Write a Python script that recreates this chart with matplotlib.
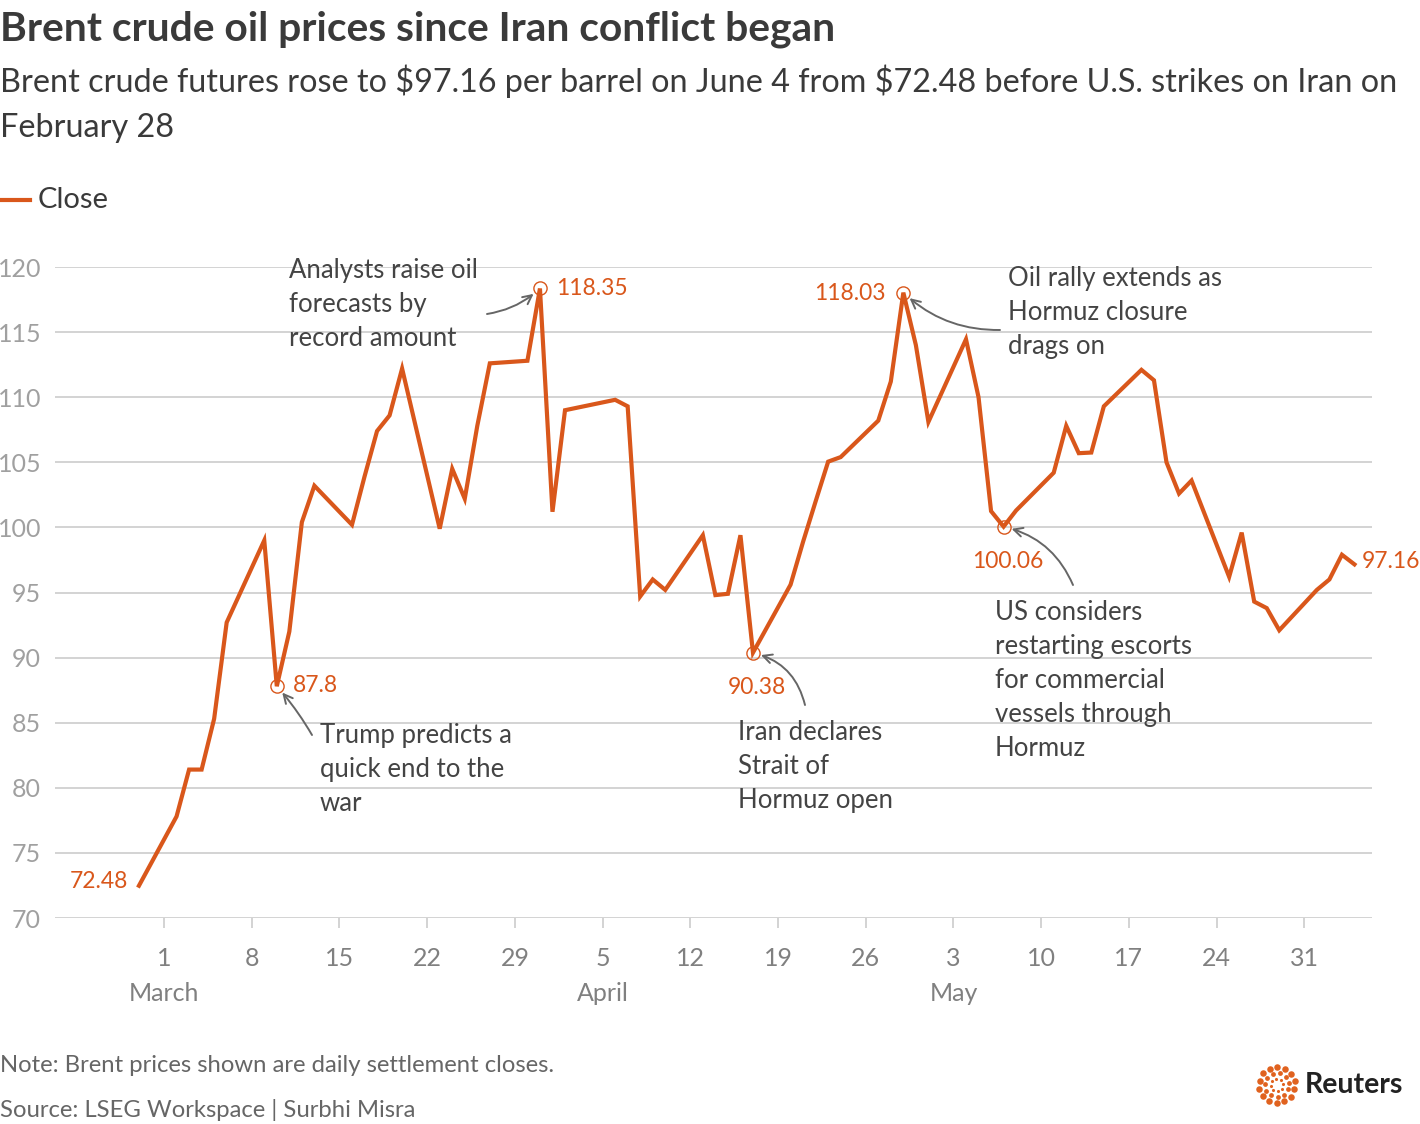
import numpy as np
import pandas as pd
import matplotlib
matplotlib.use('Agg')
import matplotlib.pyplot as plt

# Brent daily settlement closes
dates = ['2026-02-27', '2026-03-02', '2026-03-03', '2026-03-04', '2026-03-05', '2026-03-06',
         '2026-03-09', '2026-03-10', '2026-03-11', '2026-03-12', '2026-03-13',
         '2026-03-16', '2026-03-17', '2026-03-18', '2026-03-19', '2026-03-20',
         '2026-03-23', '2026-03-24', '2026-03-25', '2026-03-26', '2026-03-27',
         '2026-03-30', '2026-03-31', '2026-04-01', '2026-04-02',
         '2026-04-06', '2026-04-07', '2026-04-08', '2026-04-09', '2026-04-10',
         '2026-04-13', '2026-04-14', '2026-04-15', '2026-04-16', '2026-04-17',
         '2026-04-20', '2026-04-21', '2026-04-22', '2026-04-23', '2026-04-24',
         '2026-04-27', '2026-04-28', '2026-04-29', '2026-04-30', '2026-05-01',
         '2026-05-04', '2026-05-05', '2026-05-06', '2026-05-07', '2026-05-08',
         '2026-05-11', '2026-05-12', '2026-05-13', '2026-05-14', '2026-05-15',
         '2026-05-18', '2026-05-19', '2026-05-20', '2026-05-21', '2026-05-22',
         '2026-05-25', '2026-05-26', '2026-05-27', '2026-05-28', '2026-05-29',
         '2026-06-01', '2026-06-02', '2026-06-03', '2026-06-04']
close = [72.48, 77.8, 81.4, 81.4, 85.3, 92.7,
         99.0, 87.8, 92.0, 100.4, 103.2,
         100.2, 103.9, 107.4, 108.6, 112.2,
         99.9, 104.5, 102.2, 107.8, 112.6,
         112.8, 118.35, 101.2, 109.0,
         109.8, 109.3, 94.7, 96.0, 95.2,
         99.4, 94.8, 94.9, 99.4, 90.38,
         95.6, 98.9, 102.0, 105.05, 105.4,
         108.2, 111.2, 118.03, 114.0, 108.1,
         114.45, 110.0, 101.25, 100.06, 101.3,
         104.2, 107.8, 105.7, 105.75, 109.3,
         112.1, 111.3, 105.0, 102.6, 103.6,
         96.2, 99.6, 94.3, 93.8, 92.1,
         95.2, 96.0, 97.9, 97.16]

tick_dates = ['2026-03-01', '2026-03-08', '2026-03-15', '2026-03-22', '2026-03-29',
              '2026-04-05', '2026-04-12', '2026-04-19', '2026-04-26',
              '2026-05-03', '2026-05-10', '2026-05-17', '2026-05-24', '2026-05-31']
tick_labels = ['1\nMarch', '8', '15', '22', '29', '5\nApril', '12', '19', '26',
               '3\nMay', '10', '17', '24', '31']
y_ticks = [70, 75, 80, 85, 90, 95, 100, 105, 110, 115, 120]

# highlighted closes and their value labels
callouts = [
    ('2026-03-10', '87.8'),
    ('2026-03-31', '118.35'),
    ('2026-04-17', '90.38'),
    ('2026-04-29', '118.03'),
    ('2026-05-07', '100.06'),
]
notes = ['Analysts raise oil\nforecasts by\nrecord amount',
         'Trump predicts a\nquick end to the\nwar',
         'Iran declares\nStrait of\nHormuz open',
         'Oil rally extends as\nHormuz closure\ndrags on',
         'US considers\nrestarting escorts\nfor commercial\nvessels through\nHormuz']

ORANGE = '#d9571b'
GRID = '#cccccc'
TXT = '#444444'
W, H = 1420, 1124

plt.rcParams['font.family'] = ['Lato', 'DejaVu Sans']


def fp(x, y):
    # pixel position (from top-left) -> figure fraction
    return x / W, 1 - y / H


df = pd.DataFrame({'date': pd.to_datetime(dates), 'close': close})

fig = plt.figure(figsize=(W / 100, H / 100), dpi=100)
ax = fig.add_axes([55 / W, 1 - 918 / H, (1372 - 55) / W, (918 - 267) / H])

ax.plot(df['date'], df['close'], color=ORANGE, lw=3, solid_joinstyle='miter', zorder=3)

x0 = pd.Timestamp('2026-03-01')
ax.set_xlim(x0 - pd.Timedelta(days=8.7), x0 + pd.Timedelta(days=96.4))
ax.set_ylim(70, 120)
ax.set_yticks(y_ticks)
ax.set_yticklabels([str(v) for v in y_ticks])
ax.set_xticks(pd.to_datetime(tick_dates))
ax.set_xticklabels(tick_labels, linespacing=1.6)
ax.grid(axis='y', color=GRID, lw=1.2)
ax.set_axisbelow(True)
for s in ax.spines.values():
    s.set_visible(False)
ax.tick_params(axis='y', length=0, pad=10, labelsize=18, labelcolor='#a0a0a0')
ax.tick_params(axis='x', length=7, width=1.2, color=GRID, pad=14, labelsize=18,
               labelcolor='#808080')

# circles on the highlighted closes
pts = df.set_index('date')['close']
for d, lab in callouts:
    ax.plot(pd.Timestamp(d), pts[pd.Timestamp(d)], 'o', ms=9.5, mfc='none', mec=ORANGE,
            mew=1, zorder=4)

val_style = dict(color=ORANGE, fontsize=16.5, va='center')
fig.text(*fp(128, 882), '72.48', ha='right', **val_style)
fig.text(*fp(1362, 562), '97.16', ha='left', **val_style)
fig.text(*fp(293, 686), callouts[0][1], ha='left', **val_style)
fig.text(*fp(556, 288), callouts[1][1], ha='left', **val_style)
fig.text(*fp(786, 688), callouts[2][1], ha='right', **val_style)
fig.text(*fp(886, 293), callouts[3][1], ha='right', **val_style)
fig.text(*fp(1043, 561), callouts[4][1], ha='right', **val_style)

note_style = dict(color=TXT, fontsize=18.5, va='top', ha='left', linespacing=1.45)
fig.text(*fp(289, 258), notes[0], **note_style)
fig.text(*fp(320, 723), notes[1], **note_style)
fig.text(*fp(738, 720), notes[2], **note_style)
fig.text(*fp(1008, 266), notes[3], **note_style)
fig.text(*fp(995, 600), notes[4], **note_style)

arrow = dict(arrowstyle='->', color='#666666', lw=1.4, shrinkA=0, shrinkB=6,
             mutation_scale=16)
arrows = [
    (callouts[0][0], (312, 735), 'arc3,rad=0.05'),
    (callouts[1][0], (487, 314), 'arc3,rad=0.15'),
    (callouts[2][0], (805, 705), 'arc3,rad=0.3'),
    (callouts[3][0], (1000, 330), 'arc3,rad=-0.2'),
    (callouts[4][0], (1073, 585), 'arc3,rad=0.25'),
]
for d, (tx, ty), cs in arrows:
    ax.annotate('', xy=(pd.Timestamp(d), pts[pd.Timestamp(d)]), xycoords='data',
                xytext=fp(tx, ty), textcoords='figure fraction',
                arrowprops=dict(arrow, connectionstyle=cs), zorder=5)

# title, subtitle, legend
fig.text(*fp(0, 29), 'Brent crude oil prices since Iran conflict began', fontsize=29.3,
         fontweight='bold', color='#3a3a3a', va='center', ha='left')
fig.text(*fp(0, 64), 'Brent crude futures rose to \\$97.16 per barrel on June 4 from \\$72.48 '
         'before U.S. strikes on Iran on\nFebruary 28', fontsize=23.3,
         color='#3a3a3a', va='top', ha='left', linespacing=1.65)
fig.add_artist(plt.Line2D([0, 30 / W], [1 - 200 / H] * 2, color=ORANGE, lw=3))
fig.text(*fp(38, 200), 'Close', fontsize=21, color='#3a3a3a', va='center', ha='left')

# footer
fig.text(*fp(0, 1066), 'Note: Brent prices shown are daily settlement closes.', fontsize=17.2,
         color='#666666', va='center')
fig.text(*fp(0, 1110), 'Source: LSEG Workspace | Surbhi Misra', fontsize=17.2,
         color='#666666', va='center')

# Reuters logo
lax = fig.add_axes([1255 / W, 1 - 1107 / H, 44 / W, 44 / H])
lax.set_xlim(-22, 22)
lax.set_ylim(-22, 22)
lax.axis('off')
for r, n, s in [(18, 14, 22), (12, 11, 12), (6.5, 8, 5)]:
    a = np.linspace(0, 2 * np.pi, n, endpoint=False) + 0.2
    lax.scatter(r * np.cos(a), r * np.sin(a), s=s, color='#e0621f', lw=0)
fig.text(*fp(1305, 1085), 'Reuters', fontsize=20.5, fontweight='bold', color='#222222',
         va='center', ha='left')

fig.savefig('out.png', dpi=100, facecolor='white')
